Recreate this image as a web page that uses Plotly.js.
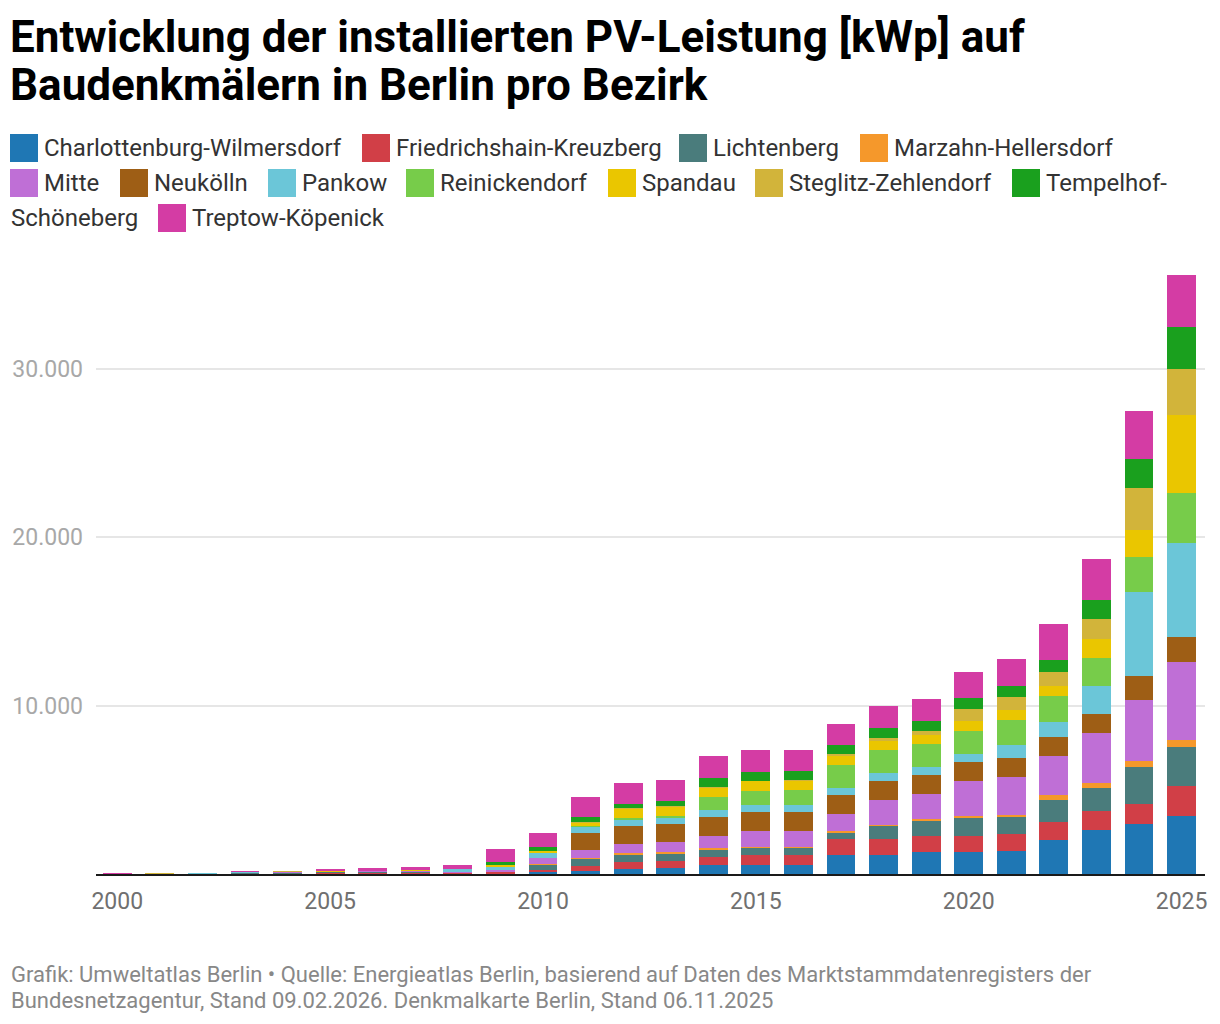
<!DOCTYPE html>
<html>
<head>
<meta charset="utf-8">
<script src="https://cdn.plot.ly/plotly-3.0.1.min.js"></script>
<style>
  html, body { margin: 0; padding: 0; background: #fff; }
  #chart { width: 1220px; height: 1024px; }
</style>
</head>
<body>
<div id="chart"></div>
<script>
const years = [2000, 2001, 2002, 2003, 2004, 2005, 2006, 2007, 2008, 2009, 2010, 2011, 2012,
  2013, 2014, 2015, 2016, 2017, 2018, 2019, 2020, 2021, 2022, 2023, 2024, 2025];

const districts = [
  'Charlottenburg-Wilmersdorf', 'Friedrichshain-Kreuzberg', 'Lichtenberg', 'Marzahn-Hellersdorf',
  'Mitte', 'Neukölln', 'Pankow', 'Reinickendorf', 'Spandau', 'Steglitz-Zehlendorf',
  'Tempelhof-Schöneberg', 'Treptow-Köpenick',
];

const districtColors = [
  '#1f77b4', '#d13f47', '#4a7c7c', '#f5982b', '#bf6fd6', '#9e5e15',
  '#6bc6d8', '#77cc4a', '#eac600', '#d2b43a', '#1aa01e', '#d43ca4',
];

// installierte Leistung in kWp, je Bezirk, 2000..2025
const charlottenburg = [0, 0, 0, 0, 0, 10, 10, 10, 10, 30, 120, 180, 300, 375, 535, 535, 535, 1130, 1130, 1310, 1310, 1365, 2040, 2630, 2970, 3470];
const friedrichshain = [0, 0, 0, 20, 30, 40, 40, 40, 40, 60, 120, 315, 435, 395, 475, 595, 595, 950, 950, 950, 950, 1030, 1070, 1110, 1190, 1780];
const lichtenberg = [0, 0, 0, 60, 20, 40, 50, 50, 30, 0, 295, 415, 395, 415, 415, 415, 415, 355, 770, 890, 1070, 990, 1290, 1385, 2200, 2300];
const marzahn = [0, 0, 0, 0, 20, 0, 0, 0, 0, 40, 60, 60, 120, 120, 120, 60, 60, 120, 60, 120, 120, 120, 295, 295, 355, 435];
const mitte = [0, 0, 0, 0, 40, 50, 50, 50, 50, 120, 355, 455, 535, 595, 715, 950, 950, 1010, 1485, 1485, 2080, 2260, 2335, 2950, 3620, 4630];
const neukoelln = [0, 0, 0, 0, 0, 0, 0, 0, 0, 0, 0, 1010, 1070, 1070, 1130, 1130, 1130, 1130, 1130, 1130, 1130, 1130, 1110, 1130, 1425, 1465];
const pankow = [0, 0, 60, 40, 0, 0, 0, 30, 170, 180, 295, 340, 355, 355, 415, 415, 415, 435, 475, 475, 475, 750, 890, 1680, 5010, 5580];
const reinickendorf = [0, 0, 0, 0, 0, 0, 0, 0, 0, 0, 0, 60, 120, 120, 770, 830, 890, 1345, 1365, 1365, 1365, 1505, 1565, 1660, 2060, 2970];
const spandau = [0, 0, 0, 0, 0, 40, 50, 40, 0, 120, 120, 200, 535, 535, 535, 595, 535, 535, 535, 535, 595, 595, 595, 1110, 1600, 4630];
const steglitz = [0, 70, 0, 0, 60, 0, 0, 40, 0, 0, 0, 30, 60, 60, 60, 0, 60, 120, 180, 240, 715, 770, 810, 1190, 2490, 2730];
const tempelhof = [0, 0, 0, 0, 0, 0, 0, 0, 0, 180, 240, 315, 255, 295, 535, 535, 535, 535, 595, 595, 655, 655, 735, 1150, 1720, 2490];
const treptow = [70, 0, 0, 60, 0, 120, 160, 160, 240, 770, 830, 1170, 1230, 1250, 1310, 1310, 1250, 1250, 1310, 1310, 1545, 1605, 2120, 2420, 2850, 3090];

const seriesValues = [charlottenburg, friedrichshain, lichtenberg, marzahn, mitte, neukoelln,
  pankow, reinickendorf, spandau, steglitz, tempelhof, treptow];

const yTicks = [10000, 20000, 30000];
const xTicks = [2000, 2005, 2010, 2015, 2020, 2025];

const titleLines = [
  'Entwicklung der installierten PV-Leistung [kWp] auf',
  'Baudenkmälern in Berlin pro Bezirk',
];
const sourceLines = [
  'Grafik: Umweltatlas Berlin • Quelle: Energieatlas Berlin, basierend auf Daten des Marktstammdatenregisters der',
  'Bundesnetzagentur, Stand 09.02.2026. Denkmalkarte Berlin, Stand 06.11.2025',
];

// plot area in pixels
const W = 1220;
const H = 1024;
const plotLeft = 96;
const plotRight = 1205;
const plotTop = 268;
const plotBottom = 874;

const xp = (px) => (px - plotLeft) / (plotRight - plotLeft);
const yp = (py) => (plotBottom - py) / (plotBottom - plotTop);

// legend squares (left x, row centre y), in the same order as districts
const legendSlots = [
  [10, 148], [362, 148], [679, 148], [860, 148],
  [10, 183], [120, 183], [268, 183], [406, 183], [608, 183], [755, 183], [1012, 183],
  [158, 218],
];
const legendWrapX = 9;
const legendWrapY = 218;
const titleRows = [37, 85];
const sourceRows = [974, 1000];

const fontFamily = 'Roboto, "Open Sans", sans-serif';

const traces = districts.map((name, i) => ({
  type: 'bar',
  name: name,
  x: years,
  y: seriesValues[i],
  marker: { color: districtColors[i], line: { width: 0 } },
  hoverinfo: 'none',
}));

const shapes = [];
const annotations = [];

function addText(text, px, py, font) {
  annotations.push({
    xref: 'paper', yref: 'paper',
    x: xp(px), y: yp(py),
    xanchor: 'left', yanchor: 'middle',
    align: 'left',
    text: text,
    showarrow: false,
    font: font,
  });
}

const legendFont = { family: fontFamily, size: 24, color: '#333' };

legendSlots.forEach(([lx, ly], i) => {
  shapes.push({
    type: 'rect',
    xref: 'paper',
    yref: 'paper',
    x0: xp(lx),
    x1: xp(lx + 28),
    y0: yp(ly + 14),
    y1: yp(ly - 14),
    fillcolor: districtColors[i],
    line: { width: 0 },
  });
  let label = districts[i];
  if (i === 10) {
    // Tempelhof- | Schöneberg wraps onto the next row
    const cut = label.indexOf('-') + 1;
    addText(label.slice(cut), legendWrapX, legendWrapY, legendFont);
    label = label.slice(0, cut);
  }
  addText(label, lx + 32, ly, legendFont);
});

titleLines.forEach((line, i) => {
  addText(line, 8, titleRows[i], { family: fontFamily, size: 44, color: '#000', weight: 700 });
});

sourceLines.forEach((line, i) => {
  addText(line, 9, sourceRows[i], { family: fontFamily, size: 22, color: '#888' });
});

const layout = {
  width: W,
  height: H,
  paper_bgcolor: '#fff',
  plot_bgcolor: '#fff',
  barmode: 'stack',
  bargap: 0.32,
  showlegend: false,
  separators: ',.',
  margin: { l: plotLeft, r: W - plotRight, t: plotTop, b: H - plotBottom, pad: 0 },
  font: { family: fontFamily, color: '#333' },
  xaxis: {
    range: [1999.5, 2025.55],
    tickvals: xTicks,
    ticks: '',
    showgrid: false,
    zeroline: false,
    showline: true,
    linecolor: '#1a1a1a',
    linewidth: 2,
    ticklabelstandoff: 5,
    tickfont: { family: fontFamily, size: 23, color: '#707070' },
  },
  yaxis: {
    range: [0, 36000],
    tickvals: yTicks,
    tickformat: ',d',
    ticks: '',
    showgrid: true,
    gridcolor: '#e6e6e6',
    gridwidth: 2,
    zeroline: false,
    showline: false,
    ticklabelstandoff: 12,
    tickfont: { family: fontFamily, size: 23, color: '#a8a8a8' },
  },
  shapes: shapes,
  annotations: annotations,
};

Plotly.newPlot('chart', traces, layout, { displayModeBar: false, staticPlot: true });
</script>
</body>
</html>
